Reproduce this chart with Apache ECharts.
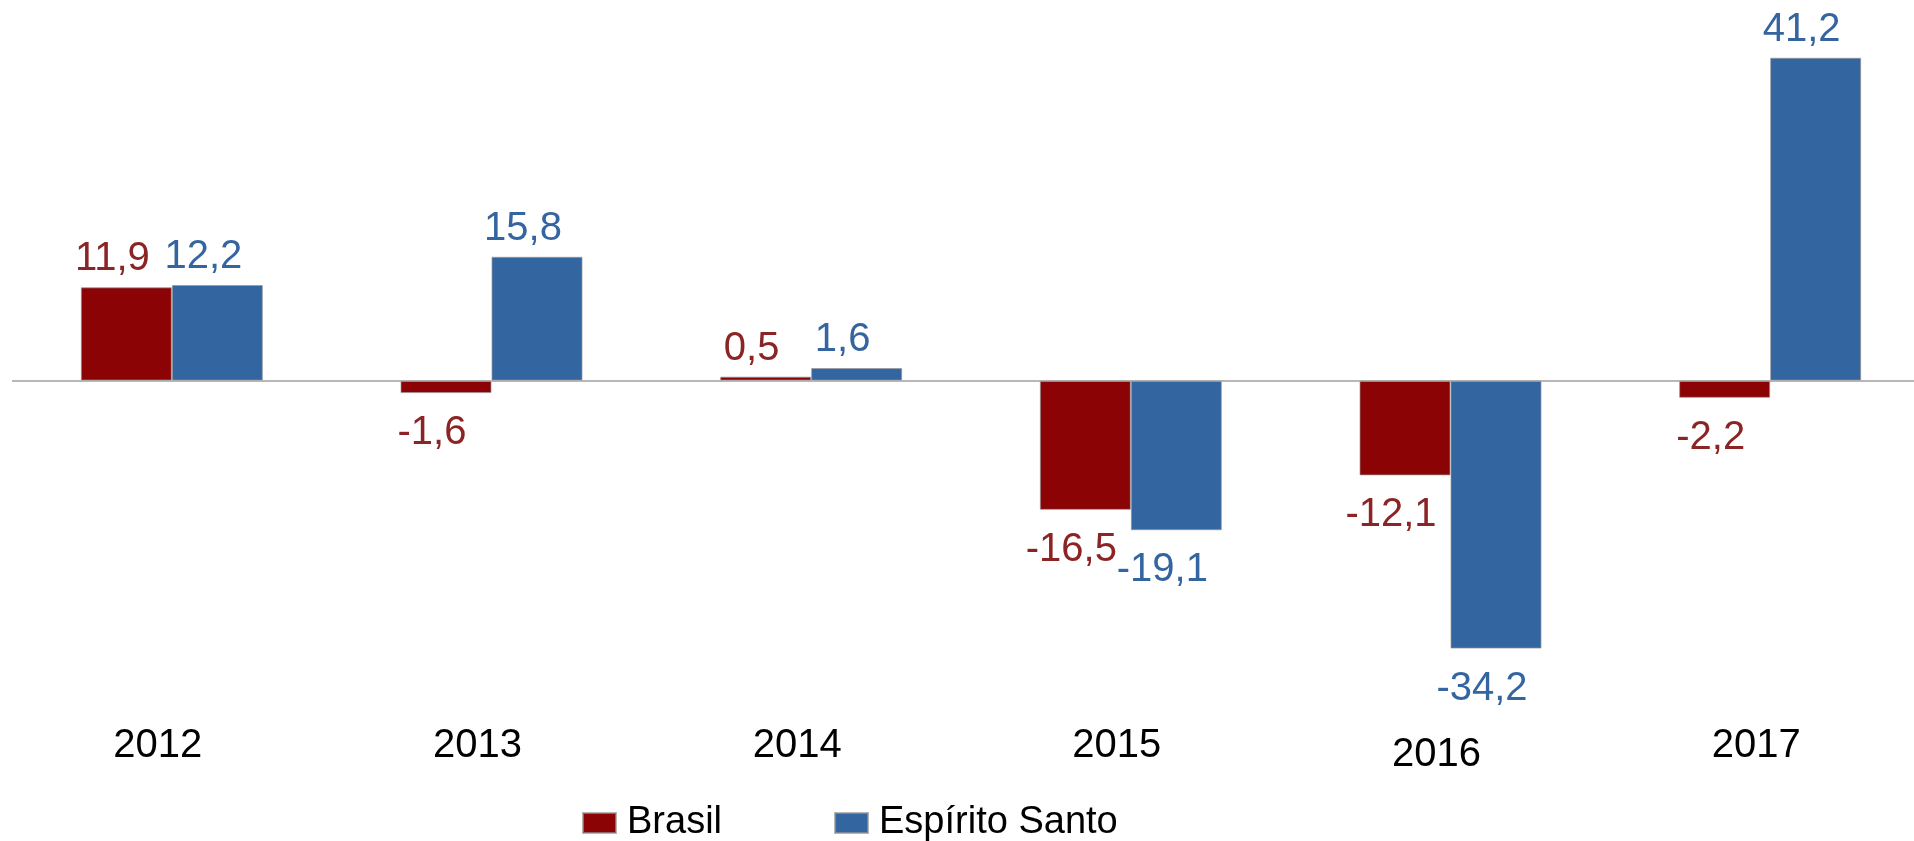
<!DOCTYPE html>
<html>
<head>
<meta charset="utf-8">
<script src="https://cdn.jsdelivr.net/npm/echarts@6/dist/echarts.min.js"></script>
<style>
html,body{margin:0;padding:0;background:#fff;}
#chart{width:1914px;height:841px;}
</style>
</head>
<body>
<div id="chart"></div>
<script>
const categories = ['2012', '2013', '2014', '2015', '2016', '2017'];
const brasil = [11.9, -1.6, 0.5, -16.5, -12.1, -2.2];
const espiritoSanto = [12.2, 15.8, 1.6, -19.1, -34.2, 41.2];
const seriesNames = ['Brasil', 'Espírito Santo'];

const FONT = '"Liberation Sans", Arial, sans-serif';
const fmt = v => v.toFixed(1).replace('.', ',');

function items(values) {
  return values.map(v => ({
    value: v,
    label: { distance: v < 0 ? 20 : 8 }
  }));
}

function barSeries(name, values, color, labelColor, withZeroLine) {
  const s = {
    name: name,
    type: 'bar',
    data: items(values),
    barWidth: 91,
    barGap: '0%',
    itemStyle: { color: color, borderColor: 'rgba(150,150,150,0.7)', borderWidth: 1 },
    label: {
      show: true,
      position: 'outside',
      offset: [-14, 0],
      color: labelColor,
      fontFamily: FONT,
      fontSize: 40,
      formatter: p => fmt(p.value)
    },
    emphasis: { disabled: true }
  };
  if (withZeroLine) {
    s.markLine = {
      silent: true,
      symbol: ['none', 'none'],
      label: { show: false },
      lineStyle: { color: '#a0a0a0', width: 1.5, type: 'solid' },
      data: [{ yAxis: 0 }]
    };
  }
  return s;
}

const chart = echarts.init(document.getElementById('chart'));
chart.setOption({
  animation: false,
  backgroundColor: '#ffffff',
  grid: { left: 12, top: 28, height: 666, width: 1918, containLabel: false, outerBoundsMode: 'none' },
  legend: {
    left: 577,
    top: 799,
    itemWidth: 33,
    itemHeight: 20,
    itemGap: 112,
    icon: 'rect',
    textStyle: { color: '#000', fontFamily: FONT, fontSize: 38, padding: [0, 0, 0, 6] },
    data: seriesNames
  },
  xAxis: {
    type: 'category',
    data: categories.map(c => c === '2016'
      ? { value: c, textStyle: { padding: [9, 28, 0, 0] } }
      : c),
    axisLine: { show: false, onZero: false },
    axisTick: { show: false },
    axisLabel: {
      show: true,
      interval: 0,
      margin: 32,
      color: '#000',
      fontFamily: FONT,
      fontSize: 40,
      padding: [0, 28, 0, 0]
    }
  },
  yAxis: {
    type: 'value',
    min: -40,
    max: 45,
    show: false,
    splitLine: { show: false }
  },
  series: [
    barSeries(seriesNames[0], brasil, '#8b0304', '#8b2424', true),
    barSeries(seriesNames[1], espiritoSanto, '#3366a0', '#3465a0', false)
  ]
});
</script>
</body>
</html>
